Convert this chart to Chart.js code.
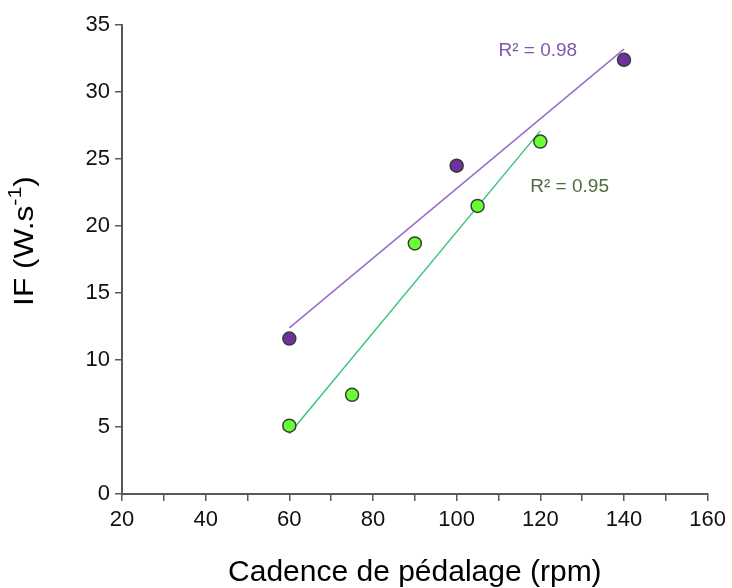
<!DOCTYPE html>
<html>
<head>
<meta charset="utf-8">
<script src="https://cdn.jsdelivr.net/npm/chart.js@4.4.1/dist/chart.umd.min.js"></script>
<style>
  html, body { margin: 0; padding: 0; background: #fff; }
  #wrap { width: 732px; height: 588px; }
</style>
</head>
<body>
<div id="wrap"><canvas id="myChart" width="732" height="588"></canvas></div>
<script>
// data
var cadA = [60, 100, 140];
var ifA = [11.6, 24.5, 32.4];
var cadB = [60, 75, 90, 105, 120];
var ifB = [5.1, 7.4, 18.7, 21.5, 26.3];
// trend line ends
var trendCadA = [60, 140];
var trendIfA = [12.4, 33.2];
var trendCadB = [60, 120];
var trendIfB = [4.5, 27.1];
var r2Labels = ['R² = 0.98', 'R² = 0.95'];

var xTicks = [20, 40, 60, 80, 100, 120, 140, 160];
var yTicks = [0, 5, 10, 15, 20, 25, 30, 35];

var pts = (xs, ys) => xs.map((x, i) => ({x: x, y: ys[i]}));

var axisColor = '#595959';
var font = 'Liberation Sans, Arial, sans-serif';

// R² texts and the y title with superscript
var textPlugin = {
    id: 'texts',
    afterDraw: (chart) => {
        var ctx = chart.ctx;
        var sx = chart.scales.x, sy = chart.scales.y;
        ctx.save();
        ctx.font = '19px ' + font;
        ctx.textAlign = 'center';
        ctx.textBaseline = 'middle';
        ctx.fillStyle = '#7F55B0';
        ctx.fillText(r2Labels[0], sx.getPixelForValue(119.4), sy.getPixelForValue(33.1));
        ctx.fillStyle = '#4E6B3C';
        ctx.fillText(r2Labels[1], sx.getPixelForValue(127), sy.getPixelForValue(22.9));

        // y axis title (the picture is a bit taller than wide, stretch along the text)
        ctx.translate(25, 241);
        ctx.rotate(-Math.PI / 2);
        ctx.scale(1.13, 1);
        ctx.fillStyle = '#000';
        ctx.textAlign = 'left';
        ctx.textBaseline = 'middle';
        var big = '28px ' + font, small = '19px ' + font;
        ctx.font = big;
        var w1 = ctx.measureText('IF (W.s').width;
        var w3 = ctx.measureText(')').width;
        ctx.font = small;
        var w2 = ctx.measureText('-1').width;
        var x0 = -(w1 + w2 + w3) / 2;
        ctx.font = big;
        ctx.fillText('IF (W.s', x0, 0);
        ctx.font = small;
        ctx.fillText('-1', x0 + w1, -9);
        ctx.font = big;
        ctx.fillText(')', x0 + w1 + w2, 0);
        ctx.restore();
    }
};

var ctx = document.getElementById('myChart').getContext('2d');
var chart = new Chart(ctx, {
    type: 'scatter',
    data: {
        datasets: [{
            data: pts(cadA, ifA),
            backgroundColor: '#7030A0',
            borderColor: '#3a3a3a',
            borderWidth: 1.5,
            pointRadius: 6.5
        }, {
            data: pts(cadB, ifB),
            backgroundColor: '#66FF33',
            borderColor: '#3a3a3a',
            borderWidth: 1.5,
            pointRadius: 6.5
        }, {
            data: pts(trendCadA, trendIfA),
            showLine: true,
            borderColor: '#9B6BD0',
            borderWidth: 1.5,
            pointRadius: 0
        }, {
            data: pts(trendCadB, trendIfB),
            showLine: true,
            borderColor: '#3CC47C',
            borderWidth: 1.5,
            pointRadius: 0
        }]
    },
    options: {
        responsive: false,
        animation: false,
        layout: { padding: { top: 25, right: 24, left: 0, bottom: 0 } },
        plugins: { legend: { display: false }, tooltip: { enabled: false } },
        scales: {
            x: {
                type: 'linear',
                min: xTicks[0],
                max: xTicks[xTicks.length - 1],
                afterFit: (s) => { s.height = 94; },
                grid: { drawOnChartArea: false, color: axisColor, tickLength: 7, lineWidth: 1.5 },
                border: { color: axisColor, width: 2 },
                ticks: {
                    stepSize: 10,
                    autoSkip: false,
                    maxRotation: 0,
                    padding: 6,
                    color: '#111',
                    font: { family: font, size: 22 },
                    callback: (v) => xTicks.includes(v) ? v : ''
                },
                title: {
                    display: true,
                    text: 'Cadence de pédalage (rpm)',
                    color: '#000',
                    font: { family: font, size: 30, lineHeight: 1 },
                    padding: 0
                }
            },
            y: {
                min: yTicks[0],
                max: yTicks[yTicks.length - 1],
                afterFit: (s) => { s.width = 122; },
                grid: { drawOnChartArea: false, color: axisColor, tickLength: 7, lineWidth: 1.5 },
                border: { color: axisColor, width: 2 },
                ticks: {
                    stepSize: 5,
                    padding: 5,
                    color: '#111',
                    font: { family: font, size: 22 }
                }
            }
        }
    },
    plugins: [textPlugin]
});
</script>
</body>
</html>
